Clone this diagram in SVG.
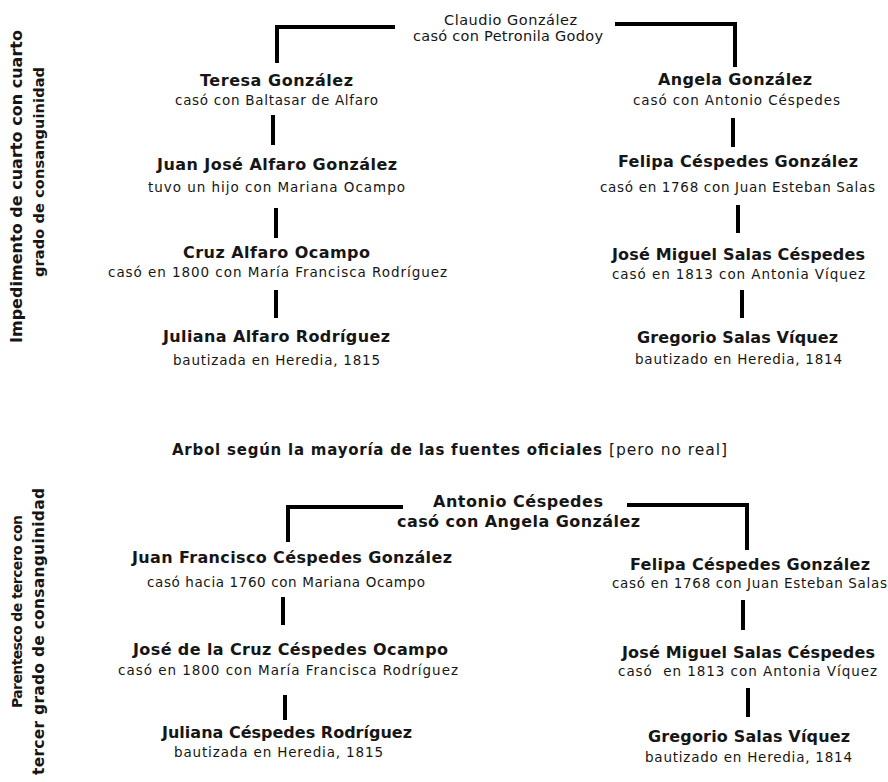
<svg xmlns="http://www.w3.org/2000/svg" width="888" height="782" viewBox="0 0 888 782">
<style>
text{font-family:"DejaVu Sans","Liberation Sans",sans-serif;fill:#161616}
.n{font-weight:bold;font-size:16px}
.s{font-size:13.5px}
.r{font-size:14.5px}
.cap{font-weight:bold;font-size:15px}
.capn{font-size:15.5px}
.lab{font-weight:bold}
.c{fill:none;stroke:#000;stroke-width:4}
</style>
<rect width="888" height="782" fill="#fff"/>
<g id="connectors">
<path class="c" d="M395,27 H277 V63"/>
<path class="c" d="M615,24 H735 V67"/>
<path class="c" d="M273,115 V145"/>
<path class="c" d="M276,208 V238"/>
<path class="c" d="M276,290 V318"/>
<path class="c" d="M733,118 V147"/>
<path class="c" d="M738,205 V233"/>
<path class="c" d="M742,290 V318"/>
<path class="c" d="M403,507 H288 V542"/>
<path class="c" d="M627,505 H747 V550"/>
<path class="c" d="M283,597 V625"/>
<path class="c" d="M285,695 V720"/>
<path class="c" d="M743,600 V630"/>
<path class="c" d="M748,688 V717"/>
</g>
<g id="label-top">
<text class="lab" font-size="16" transform="translate(22,343) rotate(-90)" textLength="313">Impedimento de cuarto con cuarto</text>
<text class="lab" font-size="14.5" transform="translate(44,277) rotate(-90)" textLength="210">grado de consanguinidad</text>
</g>
<g id="label-bottom">
<text class="lab" font-size="14" transform="translate(22,708) rotate(-90)" textLength="193">Parentesco de tercero con</text>
<text class="lab" font-size="15.5" transform="translate(44,775) rotate(-90)" textLength="287">tercer grado de consanguinidad</text>
</g>
<g id="claudio">
<text class="r" x="444" y="25" textLength="133">Claudio González</text>
<text class="r" x="413" y="41" textLength="190">casó con Petronila Godoy</text>
</g>
<g id="teresa">
<text class="n" x="200" y="86" textLength="153">Teresa González</text>
<text class="s" x="175" y="105" textLength="203">casó con Baltasar de Alfaro</text>
</g>
<g id="juan-jose">
<text class="n" x="157" y="170" textLength="240">Juan José Alfaro González</text>
<text class="s" x="148" y="192" textLength="257">tuvo un hijo con Mariana Ocampo</text>
</g>
<g id="cruz">
<text class="n" x="183" y="258" textLength="187">Cruz Alfaro Ocampo</text>
<text class="s" x="108" y="277" textLength="339">casó en 1800 con María Francisca Rodríguez</text>
</g>
<g id="juliana-alfaro">
<text class="n" x="163" y="342" textLength="227">Juliana Alfaro Rodríguez</text>
<text class="s" x="173" y="365" textLength="207">bautizada en Heredia, 1815</text>
</g>
<g id="angela">
<text class="n" x="658" y="85" textLength="154">Angela González</text>
<text class="s" x="633" y="105" textLength="207">casó con Antonio Céspedes</text>
</g>
<g id="felipa-top">
<text class="n" x="618" y="167" textLength="240">Felipa Céspedes González</text>
<text class="s" x="600" y="192" textLength="275">casó en 1768 con Juan Esteban Salas</text>
</g>
<g id="jose-miguel-top">
<text class="n" x="612" y="260" textLength="253">José Miguel Salas Céspedes</text>
<text class="s" x="612" y="279" textLength="253">casó en 1813 con Antonia Víquez</text>
</g>
<g id="gregorio-top">
<text class="n" x="637" y="343" textLength="201">Gregorio Salas Víquez</text>
<text class="s" x="635" y="364" textLength="207">bautizado en Heredia, 1814</text>
</g>
<g id="caption">
<text class="cap" x="172" y="455" textLength="430">Arbol según la mayoría de las fuentes oficiales</text>
<text class="capn" x="609" y="455" textLength="118">[pero no real]</text>
</g>
<g id="antonio">
<text class="n" x="433" y="507" textLength="170">Antonio Céspedes</text>
<text class="n" x="397" y="527" textLength="243">casó con Angela González</text>
</g>
<g id="juan-francisco">
<text class="n" x="132" y="563" textLength="320">Juan Francisco Céspedes González</text>
<text class="s" x="147" y="587" textLength="278">casó hacia 1760 con Mariana Ocampo</text>
</g>
<g id="jose-cruz">
<text class="n" x="133" y="655" textLength="315">José de la Cruz Céspedes Ocampo</text>
<text class="s" x="118" y="675" textLength="340">casó en 1800 con María Francisca Rodríguez</text>
</g>
<g id="juliana-cespedes">
<text class="n" x="162" y="738" textLength="250">Juliana Céspedes Rodríguez</text>
<text class="s" x="174" y="757" textLength="209">bautizada en Heredia, 1815</text>
</g>
<g id="felipa-bottom">
<text class="n" x="630" y="570" textLength="240">Felipa Céspedes González</text>
<text class="s" x="612" y="588" textLength="275">casó en 1768 con Juan Esteban Salas</text>
</g>
<g id="jose-miguel-bottom">
<text class="n" x="622" y="658" textLength="253">José Miguel Salas Céspedes</text>
<text class="s" x="618" y="676" textLength="259">casó&#160; en 1813 con Antonia Víquez</text>
</g>
<g id="gregorio-bottom">
<text class="n" x="648" y="742" textLength="202">Gregorio Salas Víquez</text>
<text class="s" x="645" y="762" textLength="207">bautizado en Heredia, 1814</text>
</g>
</svg>
